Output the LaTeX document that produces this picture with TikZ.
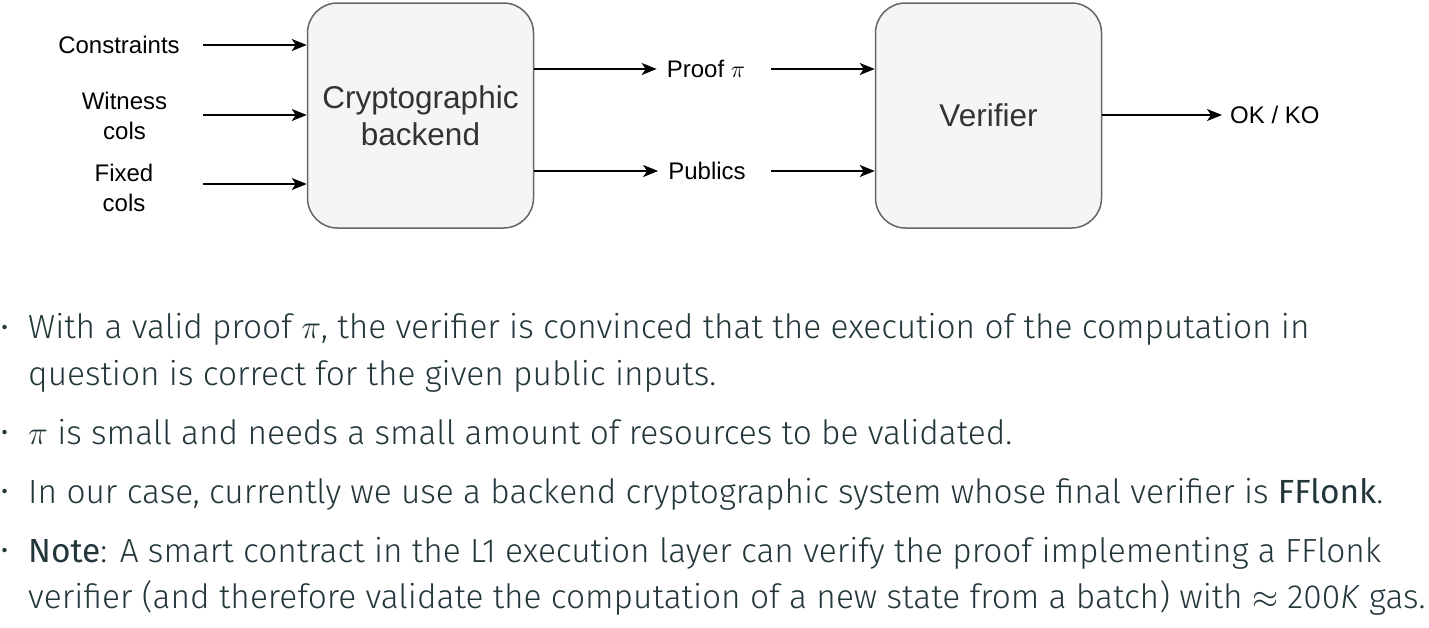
\RequirePackage{fix-cm}
\documentclass[tikz,border=0pt]{standalone}
\usepackage{fontspec}
\setmainfont{Fira Sans Light}[BoldFont={Fira Sans},ItalicFont={Fira Sans Light Italic}]
\newfontfamily\arialfont{Liberation Sans}
\usetikzlibrary{arrows.meta}
\definecolor{bodytext}{HTML}{23373B}
\definecolor{boxfill}{HTML}{F5F5F5}
\definecolor{boxline}{HTML}{666666}
\definecolor{boxtext}{HTML}{333333}
\tikzset{
  block/.style={draw=boxline, fill=boxfill, line width=1.5pt, rounded corners=30pt,
    minimum width=226pt, minimum height=225pt, inner sep=0pt, align=center,
    text=boxtext, font=\arialfont\fontsize{31.5}{37}\selectfont},
  lbl/.style={inner sep=0pt, align=center, text=black,
    font=\arialfont\fontsize{24}{30}\selectfont},
  arr/.style={line width=1.8pt, -{Stealth[length=15pt, width=12pt, inset=4pt]}},
  line/.style={anchor=base west, inner sep=0pt, text=bodytext,
    font=\fontsize{33.45}{40}\selectfont},
  dot/.style={circle, fill=bodytext, inner sep=0pt, minimum size=4.5pt}
}
\begin{document}
\begin{tikzpicture}[x=1pt, y=-1pt]
\useasboundingbox (0,0) rectangle (1429,627);

% processing blocks
\node[block] (crypto) at (420.5,115.5) {Cryptographic\\backend};
\node[block] (verif) at (988.5,115.5) {Verifier};

% inputs of the backend
\coordinate (inx) at (203,0);
\node[lbl] (cons) at (119,45) {Constraints};
\node[lbl] (wit) at (124.5,116) {Witness\\cols};
\node[lbl] (fix) at (124,188) {Fixed\\cols};
\coordinate (consy) at (0,45);
\coordinate (wity) at (0,115);
\coordinate (fixy) at (0,184);
\draw[arr] (inx |- consy) -- (crypto.west |- consy);
\draw[arr] (inx |- wity) -- (crypto.west |- wity);
\draw[arr] (inx |- fixy) -- (crypto.west |- fixy);

% outputs of the backend, inputs of the verifier
\coordinate (vinx) at (771,0);
\node[lbl, inner xsep=10pt] (proof) at (706,69) {Proof $\pi$};
\node[lbl, inner xsep=10pt] (pub) at (707,171) {Publics};
\draw[arr] (crypto.east |- proof) -- (proof.west);
\draw[arr] (crypto.east |- pub) -- (pub.west);
\draw[arr] (vinx |- proof) -- (verif.west |- proof);
\draw[arr] (vinx |- pub) -- (verif.west |- pub);

% verdict
\node[lbl, anchor=west, inner xsep=8pt] (ok) at (1222,115) {OK / KO};
\draw[arr] (verif.east |- ok) -- (ok.west);

% bullet list
\node[dot] (b1) at (4.5,327) {};
\node[dot] (b2) at (4.5,432) {};
\node[dot] (b3) at (4.5,491) {};
\node[dot] (b4) at (4.5,550) {};
\node[line] (l1) at (28,338) {With a valid proof $\pi$, the verifier is convinced that the execution of the computation in};
\node[line] (l2) at (28,385) {question is correct for the given public inputs.};
\node[line] (l3) at (28,444) {$\pi$ is small and needs a small amount of resources to be validated.};
\node[line] (l4) at (28,503) {In our case, currently we use a backend cryptographic system whose final verifier is \textbf{FFlonk}.};
\node[line] (l5) at (28,562) {\textbf{Note}: A smart contract in the L1 execution layer can verify the proof implementing a FFlonk};
\node[line] (l6) at (28,608) {verifier (and therefore validate the computation of a new state from a batch) with $\approx$ 200\textit{K} gas.};
\end{tikzpicture}
\end{document}
